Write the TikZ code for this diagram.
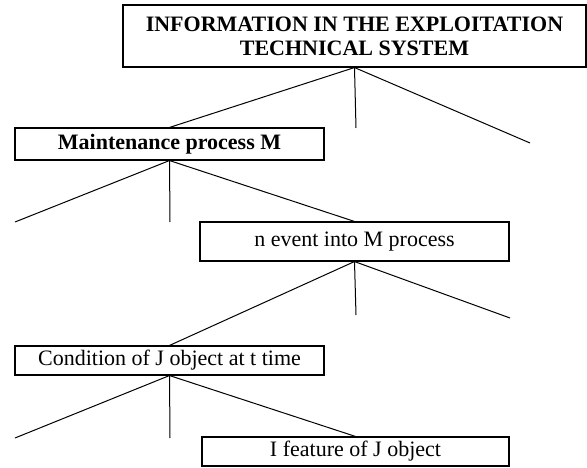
\documentclass[tikz,border=0pt]{standalone}
\usepackage{fontspec}
\setmainfont{Liberation Serif}
\usepackage{tikz}
\usetikzlibrary{positioning}
\tikzset{
  infobox/.style={draw,line width=1.1pt,inner sep=0pt,align=center,
    minimum width=309pt,font=\fontsize{22}{24}\selectfont},
  headbox/.style={infobox,font=\fontsize{22}{24}\selectfont\bfseries},
  branch/.style={line width=1pt},
}

\begin{document}
\begin{tikzpicture}[x=1pt,y=-1pt]
  \useasboundingbox (0,0) rectangle (587,468);
  \node[headbox,minimum width=463pt,minimum height=62pt] (info) at (354.5,36) {INFORMATION IN THE EXPLOITATION\\TECHNICAL SYSTEM};
  \node[headbox,minimum height=32pt] (maint) at (169.5,144) {Maintenance process M};
  \node[infobox,minimum height=39pt] (event) at (354.5,241.5) {n event into M process};
  \node[infobox,minimum height=29pt] (cond) at (169.5,360.5) {Condition of J object at t time};
  \node[infobox,minimum width=307pt,minimum height=29pt] (feat) at (355.5,451.5) {I feature of J object};
  \coordinate (infomid) at (356,128);
  \coordinate (inforight) at (530,143);
  \coordinate (maintleft) at (15,222);
  \coordinate (maintmid) at (170,222);
  \coordinate (eventmid) at (356,315);
  \coordinate (eventright) at (510,318);
  \coordinate (condleft) at (15,438);
  \coordinate (condmid) at (170,438);
  \draw[branch] (info.south) -- (maint.north);
  \draw[branch] (info.south) -- (infomid);
  \draw[branch] (info.south) -- (inforight);
  \draw[branch] (maint.south) -- (maintleft);
  \draw[branch] (maint.south) -- (maintmid);
  \draw[branch] (maint.south) -- (event.north);
  \draw[branch] (event.south) -- (cond.north);
  \draw[branch] (event.south) -- (eventmid);
  \draw[branch] (event.south) -- (eventright);
  \draw[branch] (cond.south) -- (condleft);
  \draw[branch] (cond.south) -- (condmid);
  \draw[branch] (cond.south) -- (feat.north);
\end{tikzpicture}
\end{document}
